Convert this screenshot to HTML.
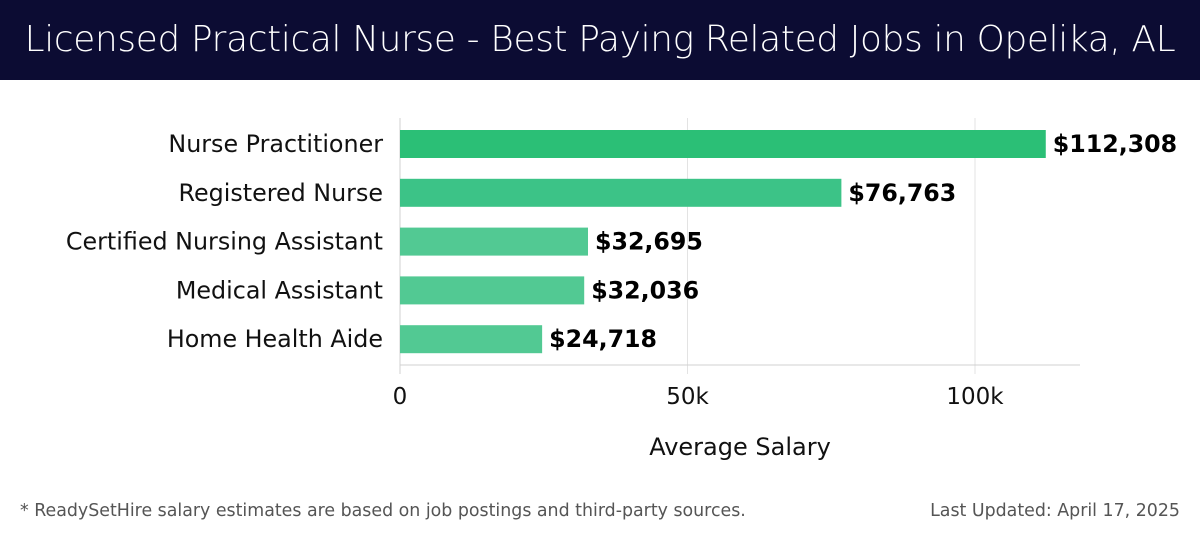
<!DOCTYPE html>
<html><head><meta charset="utf-8"><style>
body{margin:0;width:1200px;height:540px;background:#fff;font-family:"DejaVu Sans","Liberation Sans",sans-serif;overflow:hidden;position:relative}
#hdr{position:absolute;left:0;top:0;width:1200px;height:80px;background:#0c0c33;color:#fff;font-size:35.8px;text-align:center;line-height:80px;font-family:"DejaVu Sans","Liberation Sans",sans-serif;font-weight:300;letter-spacing:-0.3px}
.ft{position:absolute;top:501px;font-size:17.4px;color:#555}
</style></head><body>
<div id="hdr">Licensed Practical Nurse - Best Paying Related Jobs in Opelika, AL</div>
<svg id="chart" width="1200" height="540" style="position:absolute;left:0;top:0"></svg>
<div class="ft" style="left:20px">* ReadySetHire salary estimates are based on job postings and third-party sources.</div>
<div class="ft" style="right:20px">Last Updated: April 17, 2025</div>
<script>
const categories=["Nurse Practitioner","Registered Nurse","Certified Nursing Assistant","Medical Assistant","Home Health Aide"];
const values=[112308,76763,32695,32036,24718];
const valueLabels=["$112,308","$76,763","$32,695","$32,036","$24,718"];
const ticks=[0,50000,100000];
const tickLabels=["0","50k","100k"];
const colors=["#2bbf76","#3cc387","#52c993","#52c993","#52c993"];
const ns="http://www.w3.org/2000/svg";
const svg=document.getElementById('chart');
const x=v=>400+v*(575/100000);
const y=i=>130+i*48.8;
function mk(t,a){const e=document.createElementNS(ns,t);for(const k in a)e.setAttribute(k,a[k]);svg.appendChild(e);return e;}
ticks.forEach((t,i)=>{
 const g=mk('line',{x1:x(t),x2:x(t),y1:118,y2:374,stroke:i?'#e3e3e3':'#d0d0d0','stroke-width':1});
 
 
 const l=mk('text',{x:x(t),y:404,'text-anchor':'middle','font-size':23,fill:'#111'});
 l.textContent=tickLabels[i];
 
 
});
const ax=mk('line',{x1:400,x2:1080,y1:365,y2:365,stroke:'#d0d0d0','stroke-width':1});


categories.forEach((c,i)=>{
 const r=mk('rect',{x:400,y:y(i),width:x(values[i])-400,height:28,fill:colors[i]});
 
 
 const l=mk('text',{x:383,y:y(i)+22,'text-anchor':'end','font-size':23.8,fill:'#111'});
 l.textContent=c;
 
 
 const v=mk('text',{x:x(values[i])+7,y:y(i)+22,'font-size':23.7,'font-weight':'bold',fill:'#000'});
 v.textContent=valueLabels[i];
 
 
});
const t=mk('text',{x:740,y:455,'text-anchor':'middle','font-size':24,fill:'#111'});
t.textContent="Average Salary";


</script>
</body></html>
